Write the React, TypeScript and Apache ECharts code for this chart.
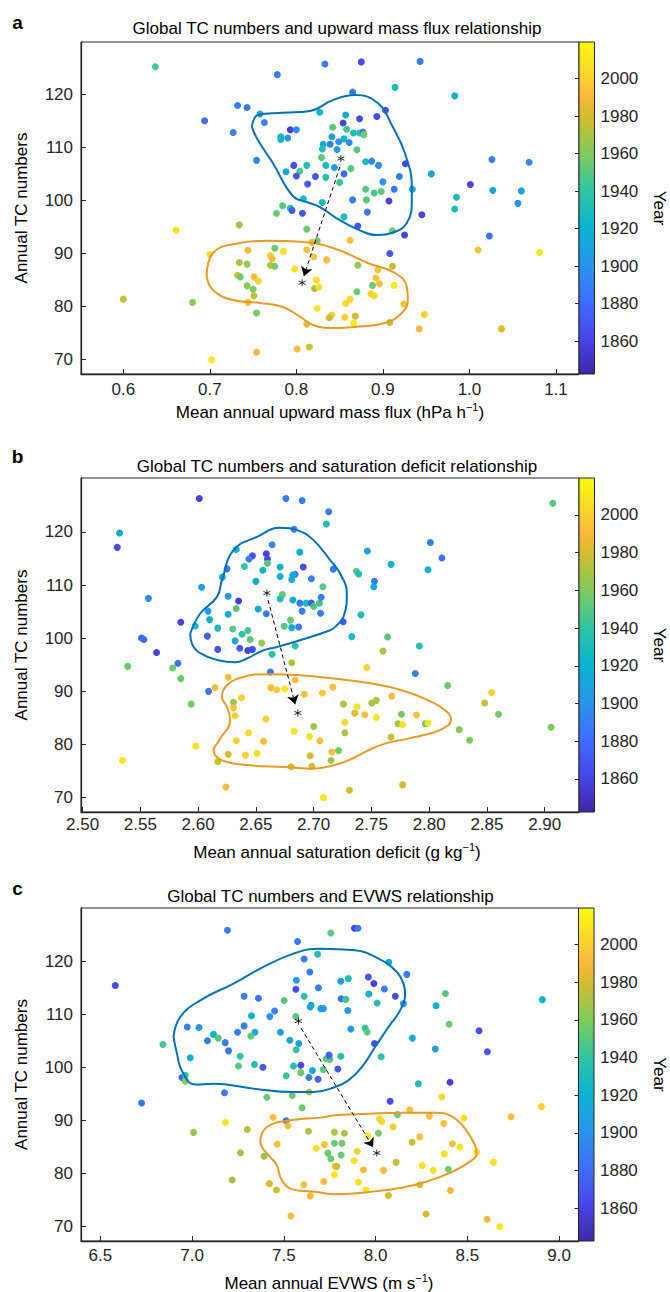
import React, { useEffect, useRef } from 'react';
import * as echarts from 'echarts';

const FONT = '"Liberation Sans", Arial, Helvetica, sans-serif';
const INK = '#262626';

// ---------- tick labels ----------
const tcTicks = [70, 80, 90, 100, 110, 120];
const yearTicks = [1860, 1880, 1900, 1920, 1940, 1960, 1980, 2000];
const fluxTicks = [0.6, 0.7, 0.8, 0.9, 1.0, 1.1];
const deficitTicks = [2.5, 2.55, 2.6, 2.65, 2.7, 2.75, 2.8, 2.85, 2.9];
const evwsTicks = [6.5, 7.0, 7.5, 8.0, 8.5, 9.0];
const yearMin = 1842.5;
const yearMax = 2019.5;

// ---------- panel a: [upward mass flux, TC number, year] ----------
const fluxPts = [
  [0.637,125.2,1945],[0.833,125.7,1890],[0.778,123.7,1890],[0.694,115.0,1880],[0.732,117.9,1890],
  [0.743,117.5,1888],[0.758,116.3,1910],[0.763,114.7,1895],[0.827,116.6,1925],[0.727,112.8,1890],
  [0.793,113.3,1858],[0.800,113.3,1895],[0.782,112.0,1930],[0.782,111.5,1925],[0.790,111.75,1900],
  [0.842,113.8,1950],[0.841,112.0,1905],[0.839,110.6,1890],[0.831,110.6,1915],[0.830,109.7,1930],
  [0.829,108.1,1950],[0.754,107.55,1895],[0.797,106.6,1865],[0.812,106.6,1935],[0.834,106.6,1930],
  [0.788,105.4,1915],[0.804,105.5,1945],[0.800,104.6,1870],[0.822,104.5,1870],[0.834,104.35,1935],
  [0.844,106.2,1905],[0.813,103.1,1870],[0.808,100.3,1930],
  [0.875,126.1,1865],[0.943,126.2,1890],[0.865,120.4,1888],[0.914,121.3,1930],[0.983,119.7,1915],
  [0.903,117.0,1865],[0.857,116.1,1915],[0.854,114.6,1860],[0.873,115.4,1865],[0.893,115.8,1865],
  [0.858,113.4,1945],[0.866,112.7,1930],[0.873,112.7,1935],[0.877,112.9,1885],[0.878,112.4,1955],
  [0.855,111.6,1925],[0.849,111.05,1900],[0.861,110.9,1895],[0.847,109.6,1905],[0.870,109.55,1950],
  [0.880,107.3,1930],[0.887,107.4,1895],[0.895,106.6,1895],[0.926,106.9,1860],[1.026,107.7,1890],
  [1.069,107.2,1895],[0.863,106.0,1950],[0.855,105.0,1880],[0.850,103.4,1945],[0.956,105.0,1910],
  [0.919,104.5,1890],[0.900,103.5,1900],[0.913,102.1,1885],[0.934,102.1,1915],[0.880,102.1,1950],
  [0.890,101.4,1945],[0.898,101.7,1950],[1.001,103.0,1860],[1.027,101.9,1915],[1.060,101.8,1905],
  [0.985,100.6,1930],
  [0.907,99.9,1860],[0.881,100.1,1950],[0.865,100.1,1890],[1.056,99.45,1900],[0.983,98.4,1930],
  [0.855,96.9,1930],[0.882,97.8,1885],[0.945,97.3,1860],[0.871,95.2,1870],[0.911,94.3,1955],
  [0.925,93.5,1860],[1.023,93.3,1885],[0.862,92.5,1995],[0.908,90.0,1870],[1.010,90.65,1995],
  [1.081,90.2,2010],[0.871,87.8,1965],[0.911,87.6,1975],[0.894,86.9,1995],[0.892,85.4,1995],
  [0.896,84.3,1993],[0.888,84.0,1955],[0.913,84.0,2012],[0.870,82.8,1955],[0.886,82.4,2003],
  [0.890,82.05,2003],[0.862,81.4,2003],[0.857,80.6,2005],[0.924,80.5,1995],[0.948,78.5,2000],
  [0.856,78.0,2000],[0.868,78.2,1980],[0.866,76.9,2012],[0.908,77.0,1975],[0.942,75.8,1990],
  [1.037,75.8,1982],
  [0.830,99.6,1930],[0.784,99.0,1950],[0.793,98.5,1935],[0.795,98.1,1870],[0.807,97.6,1870],
  [0.777,97.6,1955],[0.734,95.4,1968],[0.812,94.6,1955],[0.661,94.4,2008],[0.824,92.4,1955],
  [0.818,92.1,1990],[0.700,89.8,2007],[0.744,90.6,1992],[0.775,91.0,1955],[0.785,90.4,2008],
  [0.770,89.6,2000],[0.772,89.0,1992],[0.812,90.7,1993],[0.820,89.4,1993],[0.835,88.8,1992],
  [0.734,88.3,1970],[0.743,88.0,1965],[0.770,87.8,1972],[0.775,87.6,1958],[0.798,87.1,2008],
  [0.732,85.9,1980],[0.735,85.6,1955],[0.751,85.6,1993],[0.756,84.8,2002],[0.823,85.0,2006],
  [0.743,83.9,1965],[0.750,83.25,1958],[0.821,83.4,1970],[0.826,83.7,2008],[0.751,82.05,1975],
  [0.600,81.4,1975],[0.680,80.8,1962],[0.744,80.8,1993],[0.754,78.8,1958],[0.824,79.7,2010],
  [0.841,78.4,1998],[0.838,77.9,1978],[0.812,76.7,1985],[0.754,71.4,1988],[0.801,72.0,1993],
  [0.815,72.4,1980],[0.702,70.0,2012]
];
const fluxEarly = [
  [0.7486,113.82],[0.7555,116.1],[0.7844,116.5],[0.8156,116.85],[0.8421,118.9],[0.8675,119.85],
  [0.8941,118.34],[0.9114,113.82],[0.9253,108.93],[0.9334,102.52],[0.9334,100.07],[0.9276,95.74],
  [0.9103,93.86],[0.8941,93.48],[0.8675,94.8],[0.8444,96.87],[0.8271,98.76],[0.812,99.7],
  [0.7959,100.83],[0.7728,107.04],[0.7555,111.37],[0.7486,113.82]
];
const fluxLate = [
  [0.6963,85.76],[0.7036,90.09],[0.7348,91.98],[0.7656,92.41],[0.8041,92.22],[0.8422,91.04],
  [0.8826,88.21],[0.9138,86.33],[0.9277,83.69],[0.9288,81.24],[0.9219,78.79],[0.9022,76.91],
  [0.8676,76.16],[0.8422,75.97],[0.8191,76.54],[0.8041,78.1],[0.7844,79.92],[0.7578,80.68],
  [0.7266,81.24],[0.7036,83.13],[0.6963,85.76]
];
const fluxStars = [[0.8514,107.9],[0.8067,84.5]];
const fluxArrow = [[0.8502,106.3],[0.8087,85.76]];

// ---------- panel b: [saturation deficit, TC number, year] ----------
const deficitPts = [
  [2.601,126.3,1860],[2.676,126.3,1890],[2.690,125.9,1890],[2.713,123.8,1890],[2.711,121.5,1930],
  [2.532,119.8,1915],[2.530,117.1,1865],[2.683,120.5,1890],[2.664,117.6,1895],[2.633,116.7,1915],
  [2.688,116.2,1920],[2.659,115.9,1860],[2.647,115.5,1865],[2.644,114.9,1890],[2.660,114.9,1865],
  [2.660,114.1,1950],[2.656,112.8,1925],[2.640,113.5,1940],[2.625,113.05,1885],[2.621,111.5,1915],
  [2.671,113.4,1920],[2.691,113.4,1865],[2.684,112.05,1890],[2.682,111.9,1915],[2.681,111.05,1915],
  [2.671,111.6,1920],[2.698,111.2,1890],[2.708,109.7,1950],[2.717,113.0,1890],[2.650,110.7,1915],
  [2.603,109.6,1905],[2.557,107.5,1895],[2.626,107.9,1900],[2.635,107.0,1858],[2.673,108.2,1955],
  [2.671,107.4,1935],[2.682,107.2,1915],[2.688,106.6,1885],[2.6935,106.6,1930],[2.698,106.6,1870],
  [2.700,106.0,1945],[2.705,106.6,1945],[2.7065,107.7,1890],[2.706,104.7,1890],[2.690,105.1,1890],
  [2.659,104.6,1890],[2.652,105.5,1915],[2.633,105.6,1950],[2.626,104.5,1915],[2.6085,105.1,1905],
  [2.610,103.5,1915],[2.585,103.0,1860],[2.5975,102.3,1930],[2.617,101.9,1930],[2.630,101.75,1950],
  [2.643,101.45,1945],[2.638,100.75,1940],[2.645,99.75,1950],[2.655,99.1,1965],[2.6745,102.25,1950],
  [2.680,103.4,1955],[2.681,102.0,1915],[2.687,102.1,1890],[2.684,98.55,1940],[2.608,100.4,1875],
  [2.632,99.5,1915],[2.636,98.1,1870],[2.643,97.7,1860],[2.647,97.9,1865],[2.617,97.9,1870],
  [2.551,100.05,1875],[2.553,99.75,1880],[2.564,97.3,1860],[2.664,97.0,1935],
  [2.907,125.4,1950],[2.801,118.0,1890],[2.811,115.1,1885],[2.7465,116.4,1905],[2.767,113.9,1920],
  [2.799,112.9,1920],[2.737,112.6,1950],[2.739,112.1,1930],[2.7526,110.7,1890],[2.752,109.7,1915],
  [2.7255,103.1,1870],[2.741,104.4,1930],[2.733,100.3,1930],[2.764,100.25,1950],[2.7915,98.55,1935],
  [2.760,97.6,1970],
  [2.539,94.7,1955],[2.578,94.4,1955],[2.5825,95.3,1885],[2.585,92.4,1955],[2.594,87.6,1958],
  [2.609,90.0,1885],[2.6145,90.7,1992],[2.626,92.65,1993],[2.6626,93.65,1885],[2.681,95.4,1972],
  [2.684,92.15,1993],[2.663,90.7,1993],[2.668,90.3,1998],[2.675,90.45,2010],[2.692,89.45,1993],
  [2.7076,89.7,1998],[2.7166,90.8,1993],[2.6306,87.95,1968],[2.6306,86.9,1993],[2.6375,88.8,2000],
  [2.632,85.4,2000],[2.6587,84.8,2000],[2.683,82.5,2008],[2.700,83.4,1968],[2.6436,82.2,2006],
  [2.6964,81.5,2008],[2.7054,80.7,1993],[2.633,80.7,2000],[2.6566,80.6,1990],[2.598,79.7,2008],
  [2.641,78.0,2000],[2.651,78.35,2005],[2.626,78.15,1980],[2.617,76.8,1980],[2.5346,77.0,2010],
  [2.6805,75.8,1978],[2.6984,75.9,1982],[2.697,77.9,1978],[2.715,77.0,1968],[2.7157,78.6,1993],
  [2.624,72.0,1993],[2.7085,70.0,2010],
  [2.746,94.5,2002],[2.788,93.35,1890],[2.816,91.1,1955],[2.854,89.8,2002],[2.848,87.8,1975],
  [2.860,85.7,1958],[2.9055,83.25,1958],[2.826,82.8,1960],[2.835,80.8,1960],[2.7676,89.1,1993],
  [2.7543,88.3,1972],[2.7503,87.8,1968],[2.7376,87.1,2008],[2.7258,87.6,1972],[2.7356,85.9,1985],
  [2.7443,85.6,1993],[2.7543,85.1,2008],[2.776,85.7,1958],[2.789,85.55,1993],[2.773,83.9,1968],
  [2.777,83.75,2008],[2.7967,83.9,1955],[2.799,84.05,2010],[2.727,84.2,2003],[2.727,82.2,1972],
  [2.767,81.4,1978],[2.7215,78.85,1958],[2.731,71.4,1980],[2.777,72.4,1980]
];
const deficitEarly = [
  [2.5932,100.89],[2.6018,104.65],[2.6163,107.78],[2.6206,110.92],[2.6306,116.57],[2.6509,119.08],
  [2.671,120.77],[2.6855,120.34],[2.6998,118.46],[2.7143,114.69],[2.7229,112.18],[2.7287,108.42],
  [2.7258,104.01],[2.7186,102.13],[2.7143,101.5],[2.6883,99.62],[2.6682,98.36],[2.6566,97.74],
  [2.6422,96.18],[2.6321,95.48],[2.6174,95.86],[2.6018,97.18],[2.5946,99.0],[2.5932,100.89]
];
const deficitLate = [
  [2.6133,79.23],[2.6191,81.11],[2.6277,84.56],[2.6249,87.06],[2.6206,88.95],[2.6249,91.15],
  [2.6393,92.71],[2.6595,93.22],[2.6883,93.03],[2.7171,92.41],[2.7474,91.58],[2.7763,90.21],
  [2.7993,88.32],[2.8138,86.44],[2.8189,84.69],[2.8166,83.62],[2.8051,82.35],[2.782,81.11],
  [2.7618,80.17],[2.7474,78.91],[2.7301,77.02],[2.7171,76.08],[2.697,75.46],[2.6739,75.76],
  [2.6451,76.08],[2.6249,76.7],[2.6148,77.97],[2.6133,79.23]
];
const deficitStars = [[2.6595,108.5],[2.6863,85.93]];
const deficitArrow = [[2.6606,107.16],[2.684,87.57]];

// ---------- panel c: [EVWS, TC number, year] ----------
const evwsPts = [
  [7.193,125.8,1890],[7.575,123.7,1890],[6.582,115.4,1865],[7.611,120.4,1890],[7.684,121.3,1930],
  [7.642,117.95,1890],[7.569,116.4,1905],[7.566,114.7,1865],[7.689,115.0,1890],[7.611,113.4,1935],
  [7.502,112.6,1950],[7.284,113.4,1890],[7.362,113.0,1885],[7.649,111.7,1920],[7.644,111.35,1915],
  [7.702,111.05,1905],[7.716,111.05,1905],[7.450,110.6,1890],[7.424,109.55,1900],[7.324,109.7,1920],
  [7.566,109.55,1950],[6.974,107.6,1890],[7.038,107.5,1900],[7.284,107.8,1890],[7.248,106.6,1890],
  [7.343,106.6,1915],[7.321,105.9,1950],[7.117,106.2,1920],[7.143,105.5,1950],[7.084,105.0,1890],
  [7.181,104.65,1890],[7.199,103.1,1885],[6.8415,104.3,1945],[6.990,101.8,1920],[7.482,106.6,1905],
  [7.533,105.1,1915],[7.582,104.5,1905],[7.5675,103.3,1940],[7.2625,102.1,1940],[7.253,100.25,1950],
  [7.340,100.55,1935],[7.386,100.0,1870],[7.553,100.25,1935],[7.593,100.4,1865],[7.513,98.4,1940],
  [7.593,99.0,1955],[7.656,99.4,1915],[7.715,99.6,1950],[7.731,101.6,1950],[7.751,101.5,1950],
  [7.747,102.3,1875],[7.637,98.1,1890],[7.687,97.75,1875],[6.945,98.1,1875],[6.963,98.5,1940],
  [6.963,97.4,1962],[6.725,93.3,1885],[7.177,95.2,1885],[7.408,94.35,1955],[7.546,94.7,1955],
  [7.638,95.35,1972],[7.600,92.4,1955],[7.008,87.75,1965],[7.1825,89.6,2008],[7.3007,88.3,1975],
  [7.442,90.6,1993],[7.513,89.95,1885],[7.522,89.0,1993],[7.6345,87.95,1968],[7.776,87.8,1972],
  [7.264,83.9,1968],[7.393,83.25,1965],[7.464,85.5,1993],[7.6765,84.75,2008],[7.7217,85.45,1995],
  [7.776,85.7,1955],[7.740,83.85,1955],[7.7565,82.8,1955],[7.780,81.35,2000],[7.776,79.8,2010],
  [7.718,78.5,1993],[7.219,78.8,1968],[7.422,78.1,1980],[7.460,76.9,1978],[7.6095,77.95,1993],
  [7.644,75.8,1988],[7.539,72.0,1993],
  [7.885,126.2,1860],[7.904,126.2,1885],[7.7565,125.3,1950],[8.0725,119.8,1920],[8.1705,117.5,1890],
  [7.811,116.2,1905],[7.852,116.7,1930],[7.961,117.0,1870],[7.991,115.8,1860],[8.0485,114.75,1890],
  [8.108,113.4,1865],[7.9635,113.8,1920],[7.8126,112.9,1885],[7.838,112.8,1945],[8.0087,112.1,1935],
  [8.152,112.0,1905],[7.849,110.7,1905],[8.381,113.9,1950],[8.330,111.6,1920],[8.909,112.75,1920],
  [8.401,108.1,1955],[7.8655,107.2,1905],[7.9434,107.4,1940],[7.9543,106.65,1950],[8.5643,106.9,1865],
  [8.201,105.5,1915],[7.994,104.5,1865],[8.326,103.45,1905],[8.6095,102.95,1870],[7.811,102.1,1935],
  [8.0305,102.0,1935],[7.7947,99.7,1870],[8.406,97.2,1860],
  [8.2337,96.9,1930],[8.361,94.4,2003],[8.0795,93.6,1865],[8.1868,92.0,1993],[8.1193,91.1,1955],
  [8.9036,92.6,2002],[8.7386,90.7,1993],[8.2936,90.8,1993],[8.0212,90.3,2003],[8.0343,89.8,2003],
  [8.0959,88.8,1998],[8.372,89.45,1993],[8.481,90.45,2008],[7.8306,87.6,1972],[7.958,87.1,2010],
  [8.0158,87.6,1958],[7.8165,85.7,1955],[8.1993,85.9,1978],[8.2413,86.9,1993],[8.4189,85.6,1993],
  [8.4592,85.0,2008],[8.5517,84.05,2010],[7.8126,83.5,1955],[7.900,84.2,2000],[8.3753,83.7,2008],
  [8.6423,82.1,2008],[7.8834,82.4,2008],[8.1122,82.1,1975],[7.7892,81.35,1978],[8.2555,81.5,2008],
  [7.9342,80.7,1993],[8.043,80.6,1993],[8.3154,80.6,2008],[8.397,80.8,1958],[7.9069,78.35,2008],
  [7.9488,76.9,2010],[8.2413,77.9,1975],[8.408,76.8,1988],[8.0703,75.85,1980],[8.2756,72.4,1980],
  [8.6078,71.4,1988],[8.677,70.0,2010]
];
const evwsEarly = [
  [6.8992,105.71],[6.9357,109.47],[7.0447,112.62],[7.226,115.76],[7.3715,118.59],[7.5528,121.41],
  [7.6983,122.35],[7.8889,122.03],[8.0158,120.47],[8.1068,118.27],[8.152,115.76],[8.1612,113.88],
  [8.134,110.73],[8.0703,107.59],[7.9978,103.82],[7.9254,100.06],[7.8524,97.55],[7.78,96.29],
  [7.6618,95.35],[7.5528,95.35],[7.335,95.99],[7.1171,96.93],[7.0174,96.75],[6.9466,99.2],
  [6.9178,102.58],[6.8992,105.71]
];
const evwsLate = [
  [7.3715,86.27],[7.408,88.76],[7.5349,90.02],[7.6983,90.53],[7.78,90.96],[7.9613,91.28],
  [8.1433,91.47],[8.3246,91.47],[8.4156,90.77],[8.488,88.46],[8.5425,85.31],[8.5517,83.75],
  [8.5245,82.49],[8.4156,80.28],[8.2702,78.4],[8.1433,77.34],[7.9613,76.52],[7.78,76.08],
  [7.6803,76.52],[7.5528,76.97],[7.4897,78.72],[7.4624,81.54],[7.4259,83.11],[7.3807,84.99],
  [7.3715,86.27]
];
const evwsStars = [[7.5801,108.72],[8.0071,83.86]];
const evwsArrow = [[7.5948,107.34],[7.987,84.93]];

// ---------- colour map (parula-like) ----------
const parulaStops: [number, string][] = [
  [0, '#3E26A8'], [0.111, '#4747EB'], [0.222, '#3E6FFF'], [0.333, '#2796EB'],
  [0.444, '#08B5D0'], [0.556, '#31C69F'], [0.667, '#81CC59'], [0.778, '#D6BC2B'],
  [0.84, '#FDB93C'], [0.889, '#FCCF30'], [1, '#F9FB0E']
];
function hexRgb(h: string) {
  return [parseInt(h.slice(1, 3), 16), parseInt(h.slice(3, 5), 16), parseInt(h.slice(5, 7), 16)];
}
function parula(t: number) {
  for (let i = 0; i < parulaStops.length - 1; i++) {
    const [t0, c0] = parulaStops[i];
    const [t1, c1] = parulaStops[i + 1];
    if (t <= t1) {
      const f = (t - t0) / (t1 - t0);
      const a = hexRgb(c0), b = hexRgb(c1);
      const c = a.map((v, k) => Math.round(v + (b[k] - v) * f));
      return `rgb(${c[0]},${c[1]},${c[2]})`;
    }
  }
  return parulaStops[parulaStops.length - 1][1];
}
const cmap = Array.from({ length: 64 }, (_, i) => parula(i / 63));

const panels = [
  {
    letter: 'a', title: 'Global TC numbers and upward mass flux relationship', titleX: 337,
    xName: 'Mean annual upward mass flux (hPa h', xNameX: 330,
    pts: fluxPts, early: fluxEarly, late: fluxLate, stars: fluxStars, arrow: fluxArrow,
    ticks: fluxTicks, dec: 1, xMin: 0.5511, xMax: 1.1266, yMin: 67.3, yMax: 129.85,
    top: 42, height: 332, width: 498, labelMargin: 7, titleY: 28, letterY: 22, xNameY: 412
  },
  {
    letter: 'b', title: 'Global TC numbers and saturation deficit relationship', titleX: 337,
    xName: 'Mean annual saturation deficit (g kg', xNameX: 337,
    pts: deficitPts, early: deficitEarly, late: deficitLate, stars: deficitStars, arrow: deficitArrow,
    ticks: deficitTicks, dec: 2, xMin: 2.4986, xMax: 2.9297, yMin: 67.3, yMax: 130.15,
    top: 478, height: 334, width: 498, labelMargin: 4, titleY: 466, letterY: 456, xNameY: 852
  },
  {
    letter: 'c', title: 'Global TC numbers and EVWS relationship', titleX: 330.5,
    xName: 'Mean annual EVWS (m s', xNameX: 329,
    pts: evwsPts, early: evwsEarly, late: evwsLate, stars: evwsStars, arrow: evwsArrow,
    ticks: evwsTicks, dec: 1, xMin: 6.3949, xMax: 9.1062, yMin: 67.3, yMax: 130.0,
    top: 908, height: 333, width: 497.5, labelMargin: 6, titleY: 896, letterY: 888, xNameY: 1283
  }
];

const STAR = 'path://M5,0L5,10M0.67,2.5L9.33,7.5M0.67,7.5L9.33,2.5';

function buildOption() {
  const grid: any[] = [], xAxis: any[] = [], yAxis: any[] = [], series: any[] = [], graphic: any[] = [];
  const scatterIdx: number[] = [];
  const labelStyle = { fontFamily: FONT, fontSize: 17, color: INK };
  panels.forEach((p, i) => {
    const g = i * 2, cb = i * 2 + 1;
    const left = 81;
    grid.push({ left, top: p.top, width: p.width, height: p.height, show: true, borderColor: INK, borderWidth: 1, containLabel: false });
    grid.push({ left: left + p.width, top: p.top, width: 15.5, height: p.height, containLabel: false });
    xAxis.push({
      gridIndex: g, type: 'value', min: p.xMin, max: p.xMax,
      axisLine: { show: true, onZero: false, lineStyle: { color: INK, width: 1.3 } },
      axisTick: { show: true, inside: true, length: 5, customValues: p.ticks, lineStyle: { color: INK } },
      axisLabel: { ...labelStyle, margin: p.labelMargin, customValues: p.ticks, formatter: (v: number) => v.toFixed(p.dec) },
      splitLine: { show: false }
    });
    yAxis.push({
      gridIndex: g, type: 'value', min: p.yMin, max: p.yMax,
      axisLine: { show: true, onZero: false, lineStyle: { color: INK, width: 1.3 } },
      axisTick: { show: true, inside: true, length: 5, customValues: tcTicks, lineStyle: { color: INK } },
      axisLabel: { ...labelStyle, margin: 8, customValues: tcTicks, formatter: (v: number) => String(Math.round(v)) },
      splitLine: { show: false }
    });
    xAxis.push({ gridIndex: cb, type: 'value', min: 0, max: 1, show: false });
    yAxis.push({
      gridIndex: cb, type: 'value', min: yearMin, max: yearMax, position: 'right', z: 10,
      axisLine: { show: false },
      axisTick: { show: true, inside: true, length: 4, customValues: yearTicks, lineStyle: { color: INK } },
      axisLabel: { ...labelStyle, margin: 6, customValues: yearTicks, formatter: (v: number) => String(Math.round(v)) },
      splitLine: { show: false }
    });

    scatterIdx.push(series.length);
    series.push({
      type: 'scatter', xAxisIndex: g, yAxisIndex: g, data: p.pts, symbolSize: 7, silent: true,
      itemStyle: { opacity: 1 }, z: 2
    });
    series.push({
      type: 'line', xAxisIndex: g, yAxisIndex: g, data: p.early, smooth: 0.45, showSymbol: false,
      symbol: 'none', silent: true, lineStyle: { color: '#0072BD', width: 2 }, z: 3
    });
    series.push({
      type: 'line', xAxisIndex: g, yAxisIndex: g, data: p.late, smooth: 0.45, showSymbol: false,
      symbol: 'none', silent: true, lineStyle: { color: '#EB9A24', width: 2 }, z: 3
    });
    series.push({
      type: 'scatter', xAxisIndex: g, yAxisIndex: g, data: p.stars, symbol: STAR, symbolSize: 7,
      silent: true, z: 5, itemStyle: { color: 'rgba(0,0,0,0)', borderColor: '#000', borderWidth: 1 },
      markLine: {
        silent: true, symbol: ['none', 'arrow'], symbolSize: 9, animation: false,
        label: { show: false },
        lineStyle: { type: [4, 3], color: '#000', width: 1 },
        emphasis: { disabled: true },
        data: [[{ coord: p.arrow[0] }, { coord: p.arrow[1] }]]
      }
    });
    const gradStops = parulaStops.map(([t, c]) => ({ offset: 1 - t, color: c })).reverse();
    series.push({
      type: 'custom', xAxisIndex: cb, yAxisIndex: cb, data: [[0.5, 1930]], silent: true, z: 1,
      renderItem: (_params: any, api: any) => {
        const a = api.coord([0, yearMax]);
        const b = api.coord([1, yearMin]);
        return {
          type: 'rect',
          shape: { x: a[0], y: a[1], width: b[0] - a[0], height: b[1] - a[1] },
          style: { fill: new echarts.graphic.LinearGradient(0, 0, 0, 1, gradStops), stroke: INK, lineWidth: 1 }
        };
      }
    });

    const mid = p.top + p.height / 2;
    graphic.push({ type: 'text', x: p.titleX, y: p.titleY, style: { text: p.title, fontFamily: FONT, fontSize: 17, fill: '#000', align: 'center', verticalAlign: 'middle' } });
    graphic.push({ type: 'text', x: 17.5, y: p.letterY, style: { text: p.letter, fontFamily: FONT, fontSize: 19, fontWeight: 'bold', fill: '#000', align: 'center', verticalAlign: 'middle' } });
    graphic.push({ type: 'text', x: 21, y: mid, rotation: Math.PI / 2, style: { text: 'Annual TC numbers', fontFamily: FONT, fontSize: 17, fill: '#000', align: 'center', verticalAlign: 'middle' } });
    graphic.push({ type: 'text', x: 659, y: mid, rotation: -Math.PI / 2, style: { text: 'Year', fontFamily: FONT, fontSize: 17, fill: '#000', align: 'center', verticalAlign: 'middle' } });
    graphic.push({
      type: 'text', x: p.xNameX, y: p.xNameY,
      style: {
        text: `{n|${p.xName}}{s|−1}{n|)}`, align: 'center', verticalAlign: 'middle',
        rich: {
          n: { fontFamily: FONT, fontSize: 17, fill: '#000', color: '#000', lineHeight: 22 },
          s: { fontFamily: FONT, fontSize: 11, fill: '#000', color: '#000', lineHeight: 12, verticalAlign: 'top' }
        }
      }
    });
  });

  return {
    animation: false,
    backgroundColor: '#fff',
    grid, xAxis, yAxis, series, graphic,
    visualMap: [{
      type: 'continuous', show: false, seriesIndex: scatterIdx, dimension: 2,
      min: yearMin, max: yearMax, inRange: { color: cmap }
    }]
  };
}

export default function App() {
  const ref = useRef<HTMLDivElement>(null);
  useEffect(() => {
    if (!ref.current) return;
    const chart = echarts.init(ref.current, null, { renderer: 'svg' });
    chart.setOption(buildOption() as any);
    return () => chart.dispose();
  }, []);
  return <div ref={ref} style={{ position: 'absolute', left: 0, top: 0, width: 670, height: 1292, background: '#fff' }} />;
}
